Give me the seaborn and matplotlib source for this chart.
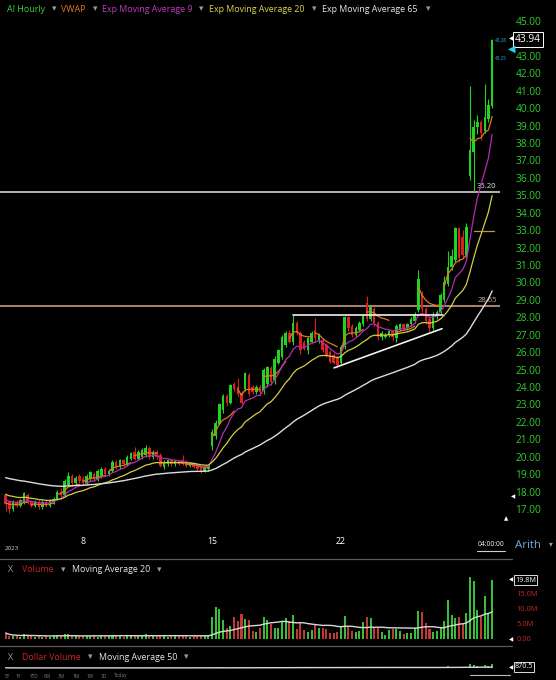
import numpy as np
import pandas as pd
import seaborn as sns
import matplotlib.pyplot as plt
from matplotlib.lines import Line2D

W, H = 556, 680

# hourly bars, 7 per session
session_days = [3, 4, 5, 8, 9, 10, 11, 12, 15, 16, 17, 18, 19, 22, 23, 24, 25, 26, 30]
bars_per_day = 7

opens = [
    17.8, 17.4, 17.0, 17.4, 17.2, 17.4, 17.8,
    17.4, 17.2, 17.4, 17.1, 17.4, 17.2, 17.4,
    17.6, 18.0, 17.8, 18.4, 18.9, 18.5, 18.9,
    18.7, 18.5, 18.7, 19.0, 18.7, 18.9, 19.3,
    19.0, 19.2, 19.7, 19.4, 19.8, 19.6, 19.9,
    20.3, 19.9, 20.0, 20.1, 20.5, 20.0, 20.3,
    20.1, 19.4, 19.6, 19.8, 19.6, 19.75, 19.8,
    19.7, 19.5, 19.6, 19.5, 19.4, 19.15, 19.3,
    20.6, 21.2, 21.9, 22.7, 23.5, 23.1, 24.2,
    24.0, 23.65, 23.9, 24.7, 24.0, 23.7, 24.0,
    23.8, 24.2, 25.1, 24.4, 25.4, 25.7, 26.4,
    27.1, 26.6, 27.7, 27.1, 26.6, 26.1, 26.6,
    27.3, 26.7, 26.7, 26.4, 26.0, 25.85, 25.7,
    25.4, 26.3, 28.0, 27.5, 27.0, 27.3, 27.6,
    28.8, 27.9, 28.5, 27.7, 26.9, 26.9, 27.0,
    27.2, 26.8, 27.3, 27.6, 27.4, 27.6, 27.8,
    28.4, 29.4, 28.5, 27.9, 27.4, 28.0, 28.3,
    29.0, 29.9, 30.9, 31.3, 33.1, 32.6, 31.6,
    36.1, 37.5, 38.9, 39.2, 38.7, 39.4, 40.1,
]
highs = [
    17.9, 17.5, 17.5, 17.5, 17.6, 18.0, 17.9,
    17.5, 17.5, 17.5, 17.5, 17.5, 17.6, 17.7,
    18.1, 18.2, 18.7, 19.1, 19.0, 18.9, 19.0,
    18.9, 19.0, 19.2, 19.1, 19.3, 19.4, 19.4,
    19.3, 19.8, 19.8, 19.9, 19.9, 20.1, 20.3,
    20.55, 20.4, 20.5, 20.65, 20.6, 20.4, 20.4,
    20.2, 19.8, 19.85, 19.85, 19.8, 19.8, 20.1,
    19.8, 19.7, 19.7, 19.6, 19.45, 19.4, 19.5,
    21.6, 22.1, 23.1, 23.6, 23.6, 24.2, 24.3,
    24.5, 23.8, 24.85, 24.8, 24.1, 24.1, 24.1,
    25.1, 25.2, 25.2, 25.8, 26.2, 27.0, 27.2,
    27.3, 28.15, 27.8, 27.2, 26.7, 26.9, 27.2,
    27.95, 27.1, 26.8, 26.5, 26.1, 25.95, 25.8,
    26.4, 28.1, 28.1, 27.6, 27.5, 27.8, 28.2,
    29.2, 28.7, 28.6, 27.8, 27.2, 27.1, 27.3,
    27.3, 27.6, 27.7, 27.7, 27.7, 28.0, 28.3,
    30.7, 29.5, 28.6, 28.0, 28.3, 28.4, 29.4,
    30.4, 31.8, 31.9, 33.2, 33.2, 33.0, 33.4,
    41.3, 39.3, 39.6, 39.3, 41.4, 40.5, 43.94,
]
lows = [
    16.9, 16.8, 16.9, 17.1, 17.1, 17.3, 17.3,
    17.1, 17.1, 17.0, 17.0, 17.1, 17.1, 17.3,
    17.5, 17.7, 17.7, 18.3, 18.4, 18.4, 18.5,
    18.4, 18.4, 18.6, 18.6, 18.6, 18.8, 18.9,
    18.9, 19.1, 19.3, 19.3, 19.5, 19.5, 19.8,
    19.8, 19.8, 19.9, 20.0, 19.9, 19.9, 19.9,
    19.4, 19.3, 19.5, 19.5, 19.5, 19.55, 19.55,
    19.4, 19.4, 19.35, 19.25, 19.05, 19.1, 19.2,
    20.4, 21.0, 21.8, 22.5, 22.9, 23.0, 23.8,
    23.5, 23.0, 23.8, 23.5, 23.6, 23.6, 23.5,
    23.6, 24.0, 24.1, 24.2, 25.3, 25.6, 26.3,
    26.5, 26.4, 27.0, 25.9, 26.1, 25.9, 26.5,
    26.6, 26.5, 26.0, 25.7, 25.4, 25.3, 25.1,
    25.3, 26.2, 27.2, 26.9, 26.9, 27.2, 27.5,
    27.8, 27.8, 27.5, 26.7, 26.7, 26.8, 26.9,
    26.7, 26.6, 27.2, 27.3, 27.3, 27.5, 27.7,
    28.3, 28.3, 27.6, 27.15, 27.3, 27.9, 28.2,
    28.9, 29.8, 30.7, 31.2, 31.2, 31.4, 31.4,
    35.9, 35.2, 38.5, 38.2, 38.6, 39.2, 40.0,
]
closes = [
    17.3, 17.0, 17.4, 17.2, 17.5, 17.9, 17.4,
    17.2, 17.4, 17.1, 17.4, 17.2, 17.5, 17.6,
    18.0, 17.8, 18.6, 18.9, 18.5, 18.8, 18.6,
    18.5, 18.9, 19.1, 18.7, 19.2, 19.3, 19.0,
    19.2, 19.7, 19.4, 19.8, 19.6, 20.0, 20.2,
    19.9, 20.3, 20.4, 20.5, 20.0, 20.3, 20.0,
    19.5, 19.7, 19.8, 19.6, 19.75, 19.6, 19.6,
    19.5, 19.6, 19.4, 19.3, 19.1, 19.35, 19.45,
    21.4, 21.95, 23.0, 23.5, 23.1, 24.1, 23.9,
    23.6, 23.1, 24.8, 23.6, 23.7, 24.0, 23.7,
    25.0, 25.15, 24.3, 25.6, 26.1, 26.9, 27.1,
    26.6, 27.7, 27.1, 26.1, 26.2, 26.8, 27.1,
    26.8, 27.0, 26.1, 25.8, 25.45, 25.4, 25.25,
    26.3, 28.0, 27.4, 27.0, 27.4, 27.7, 28.1,
    27.9, 28.6, 27.7, 26.9, 27.1, 27.0, 27.2,
    26.9, 27.5, 27.6, 27.4, 27.6, 27.9, 28.2,
    30.2, 28.5, 27.8, 27.4, 28.1, 28.3, 29.3,
    30.0, 30.9, 31.5, 33.1, 31.4, 31.6, 33.2,
    37.6, 38.9, 39.2, 38.6, 39.5, 40.2, 43.9,
]
# volume in millions
volume = [
    2.0, 1.1, 0.9, 1.0, 0.8, 1.5, 1.0,
    0.9, 0.8, 1.0, 0.7, 0.9, 0.8, 1.1,
    1.2, 1.0, 1.6, 1.5, 1.1, 0.9, 1.0,
    1.1, 0.9, 1.0, 1.2, 0.8, 1.3, 1.0,
    0.9, 1.4, 1.0, 1.1, 0.8, 1.2, 1.3,
    1.4, 1.0, 1.1, 1.5, 1.0, 0.9, 1.1,
    1.2, 1.0, 0.8, 1.3, 0.9, 1.0, 1.1,
    1.0, 0.7, 0.9, 1.0, 1.1, 1.2, 1.3,
    7.2, 10.8, 10.0, 6.3, 3.7, 4.4, 7.4,
    5.9, 8.2, 6.7, 6.3, 2.8, 2.4, 3.7,
    7.2, 6.4, 5.0, 3.7, 3.7, 5.6, 7.0,
    5.9, 8.0, 3.3, 5.4, 3.0, 2.4, 3.1,
    4.8, 3.6, 3.6, 3.3, 2.0, 1.9, 2.2,
    4.4, 7.8, 4.4, 2.6, 2.4, 2.8, 5.6,
    7.4, 6.9, 3.7, 3.7, 2.2, 1.4, 3.0,
    3.3, 3.3, 2.8, 1.7, 1.9, 2.0, 3.6,
    9.4, 8.9, 5.2, 3.3, 2.4, 2.8, 4.0,
    5.9, 13.0, 8.1, 7.0, 7.4, 5.0, 8.7,
    20.6, 19.4, 9.8, 7.2, 14.2, 8.3, 19.8,
]

tick_days = [8, 15, 22]
price_ticks = [17, 18, 19, 20, 21, 22, 23, 24, 25, 26, 27, 28, 29, 30,
               31, 32, 33, 34, 35, 36, 37, 38, 39, 40, 41, 42, 43, 45]
vol_ticks = [0, 5, 10, 15]
vol_tick_labels = ["0.00", "5.0M", "10.0M", "15.0M"]
last_price = 43.94
bid, ask = 43.25, 43.28

# drawn levels / trendlines (bar index, price)
level_prices = [35.20, 28.65]
level_colors = ["#e6e6e6", "#d9a88a"]
resist_x, resist_y = [78.0, 118.7], [28.15, 28.15]
support_x, support_y = [89.1, 118.4], [25.1, 27.35]
vwap_mark_x, vwap_mark_y = [127.0, 132.4], [32.95, 32.95]
ema_seeds = {9: 17.6, 20: 17.9, 65: 18.85}

GREEN = "#22d422"
RED = "#dc1f1f"

df = pd.DataFrame({"open": opens, "high": highs, "low": lows,
                   "close": closes, "volume": volume})
df["idx"] = np.arange(len(df))
df["day"] = np.repeat(session_days, bars_per_day)
df["dir"] = np.where(df.close >= df.open, "up", "down")


def ema(s, span, seed):
    s2 = pd.concat([pd.Series([seed]), s], ignore_index=True)
    return s2.ewm(span=span, adjust=False).mean().iloc[1:].to_numpy()


for n, seed in ema_seeds.items():
    df[f"ema{n}"] = ema(df.close, n, seed)
tp = (df.high + df.low + df.close) / 3
df["pv"] = tp * df.volume
df["vwap"] = df.groupby("day").pv.cumsum() / df.groupby("day").volume.cumsum()
df["vol_ma"] = df.volume.rolling(20, min_periods=1).mean()
df["dvol"] = df.close * df.volume
df["dvol_ma"] = df.dvol.rolling(50, min_periods=1).mean()

sns.set_theme(style="dark", rc={"axes.facecolor": "black", "figure.facecolor": "black",
                                "axes.grid": False})
plt.rcParams["font.family"] = ["Open Sans", "DejaVu Sans"]

fig = plt.figure(figsize=(W / 100, H / 100), dpi=100)


def px_axes(x0, y0, x1, y1):
    a = fig.add_axes([x0 / W, 1 - y1 / H, (x1 - x0) / W, (y1 - y0) / H])
    a.set_facecolor("black")
    for s in a.spines.values():
        s.set_visible(False)
    return a


def ftext(x, y, s, **kw):
    kw.setdefault("va", "center")
    fig.text(x / W, 1 - y / H, s, **kw)


xlim = ((0 - 5.6) / 3.686, (500 - 5.6) / 3.686)

# ---- price panel
ax = px_axes(0, 0, 500, 530)
cols = np.where(df.dir == "up", GREEN, RED)
ax.vlines(df.idx, df.low, df.high, colors=cols, lw=0.8, zorder=3)
body_lo = np.minimum(df.open, df.close)
body_h = np.maximum((df.close - df.open).abs(), 0.07)
ax.bar(df.idx, body_h, bottom=body_lo, width=0.68, color=cols, lw=0, zorder=3)

sns.lineplot(data=df, x="idx", y="vwap", units="day", estimator=None,
             color="#e07a22", lw=0.9, ax=ax, zorder=4)
sns.lineplot(data=df, x="idx", y="ema9", color="#b52bb5", lw=0.9, ax=ax, zorder=4)
sns.lineplot(data=df, x="idx", y="ema20", color="#d2cf45", lw=0.9, ax=ax, zorder=4)
sns.lineplot(data=df, x="idx", y="ema65", color="#dcdcdc", lw=1.0, ax=ax, zorder=4)

for p, c in zip(level_prices, level_colors):
    ax.axhline(p, color=c, lw=1.1, zorder=2)
    ax.text(133.2, p + 0.12, f"{p:.2f}", color=c, fontsize=5.5, ha="right", va="bottom")
ax.plot(resist_x, resist_y, color="#f0f0f0", lw=1.2, zorder=5)
ax.plot(support_x, support_y, color="#f0f0f0", lw=1.2, zorder=5)
ax.plot(vwap_mark_x, vwap_mark_y, color="#b5a035", lw=0.9, zorder=4)

ax.set_xlim(*xlim)
ax.set_ylim(15.80, 46.205)
ax.yaxis.tick_right()
ax.set_yticks(price_ticks)
ax.set_yticklabels([f"{v:.2f}" for v in price_ticks])
ax.tick_params(axis="y", colors="#2fd02f", labelsize=7.3, length=0, pad=11)
starts = [session_days.index(d) * bars_per_day for d in tick_days]
ax.set_xticks(starts)
ax.set_xticklabels([str(d) for d in tick_days])
ax.tick_params(axis="x", colors="white", labelsize=6.3, length=0, pad=5)
ax.set_xlabel("")
ax.set_ylabel("")

# last price box and bid/ask
ax.text(1.03, last_price, f"{last_price:.2f}", transform=ax.get_yaxis_transform(),
        color="white", fontsize=7.3, va="center", ha="left",
        bbox=dict(boxstyle="square,pad=0.15", fc="black", ec="white", lw=0.7))
ftext(511, 39, "◀", color="white", fontsize=4, ha="center", family="DejaVu Sans")
ftext(501, 40, f"{ask:.2f}", color="#20b8c8", fontsize=3.3, ha="center")
ftext(501, 58, f"{bid:.2f}", color="#20b8c8", fontsize=3.3, ha="center")
ftext(512, 49, "◀", color="#22d0e8", fontsize=7, ha="center", family="DejaVu Sans")
ftext(513, 497, "◀", color="white", fontsize=4, ha="center", family="DejaVu Sans")
ftext(506, 519, "▲", color="white", fontsize=4, ha="center", family="DejaVu Sans")

# header
hdr = [(7, "AI Hourly", "#3cd03c"), (52, "▾", "#9a9a9a"), (61, "VWAP", "#e07a22"),
       (93, "▾", "#9a9a9a"), (102, "Exp Moving Average 9", "#c03cc0"), (199, "▾", "#9a9a9a"),
       (209, "Exp Moving Average 20", "#d8d650"), (312, "▾", "#9a9a9a"),
       (322, "Exp Moving Average 65", "#e8e8e8"), (426, "▾", "#9a9a9a")]
for x, s, c in hdr:
    ftext(x, 9, s, color=c, fontsize=6.4)

# x-axis extras
ftext(12, 548, "2023", color="#cfcfcf", fontsize=4.5, ha="center")
ftext(491, 545, "04:00:00", color="white", fontsize=4.8, ha="center")
fig.add_artist(Line2D([477 / W, 505 / W], [1 - 551 / H] * 2, color="#d0d0d0", lw=0.8))
ftext(515, 546, "Arith", color="#78a8d8", fontsize=8.2)
ftext(549, 545, "▾", color="#9a9a9a", fontsize=5.5)
for yy in (559, 646):
    fig.add_artist(Line2D([0, 512 / W], [1 - yy / H] * 2, color="#5a5a5a", lw=0.9))

# ---- volume panel
axv = px_axes(0, 575, 500, 641)
sns.barplot(data=df, x="idx", y="volume", hue="dir", palette={"up": GREEN, "down": RED},
            native_scale=True, dodge=False, width=0.55, errorbar=None, legend=False,
            linewidth=0, ax=axv)
sns.lineplot(data=df, x="idx", y="vol_ma", color="#d8d8d8", lw=1.0, ax=axv)
axv.set_xlim(*xlim)
axv.set_ylim(-0.667, 21.33)
axv.yaxis.tick_right()
axv.set_yticks(vol_ticks)
axv.set_yticklabels(vol_tick_labels)
axv.tick_params(axis="y", colors="#c8282a", labelsize=5.4, length=0, pad=12)
axv.set_xticks([])
axv.set_xlabel("")
axv.set_ylabel("")
last_vol = df.volume.iloc[-1]
ftext(515, 580, f"{last_vol:.1f}M", color="white", fontsize=5.2,
      bbox=dict(boxstyle="square,pad=0.15", fc="black", ec="white", lw=0.6))
ftext(511, 580, "◀", color="white", fontsize=4, ha="center", family="DejaVu Sans")
ftext(511, 640, "◀", color="white", fontsize=4, ha="center", family="DejaVu Sans")

for x, s, c in [(8, "X", "#9a9a9a"), (22, "Volume", "#cc2222"), (61, "▾", "#9a9a9a"),
                (72, "Moving Average 20", "#e8e8e8"), (157, "▾", "#9a9a9a")]:
    ftext(x, 570, s, color=c, fontsize=6.4)

# ---- dollar volume panel
axd = px_axes(0, 652, 500, 670)
sns.barplot(data=df, x="idx", y="dvol", hue="dir", palette={"up": GREEN, "down": RED},
            native_scale=True, dodge=False, width=0.55, errorbar=None, legend=False,
            linewidth=0, ax=axd)
sns.lineplot(data=df, x="idx", y="dvol_ma", color="#d8d8d8", lw=1.0, ax=axd)
axd.set_xlim(*xlim)
axd.set_ylim(-435, 3480)
axd.set_xticks([])
axd.set_yticks([])
axd.set_xlabel("")
axd.set_ylabel("")
ftext(515, 667, "870.5", color="white", fontsize=5.2,
      bbox=dict(boxstyle="square,pad=0.15", fc="black", ec="white", lw=0.6))
ftext(511, 668, "◀", color="white", fontsize=4, ha="center", family="DejaVu Sans")
for x, s, c in [(8, "X", "#9a9a9a"), (22, "Dollar Volume", "#cc2222"), (88, "▾", "#9a9a9a"),
                (99, "Moving Average 50", "#e8e8e8"), (184, "▾", "#9a9a9a")]:
    ftext(x, 657, s, color=c, fontsize=6.4)

# range buttons
for x, s in [(5, "5Y"), (16, "1Y"), (29, "YTD"), (44, "6M"), (58, "3M"), (73, "1M"),
             (87, "1W"), (101, "1D"), (114, "Today")]:
    ftext(x, 676, s, color="#808080", fontsize=3.4)
fig.add_artist(Line2D([470 / W, 510 / W], [1 - 675 / H] * 2, color="#bbbbbb", lw=0.8))

fig.savefig("out.png", dpi=100, facecolor="black")
